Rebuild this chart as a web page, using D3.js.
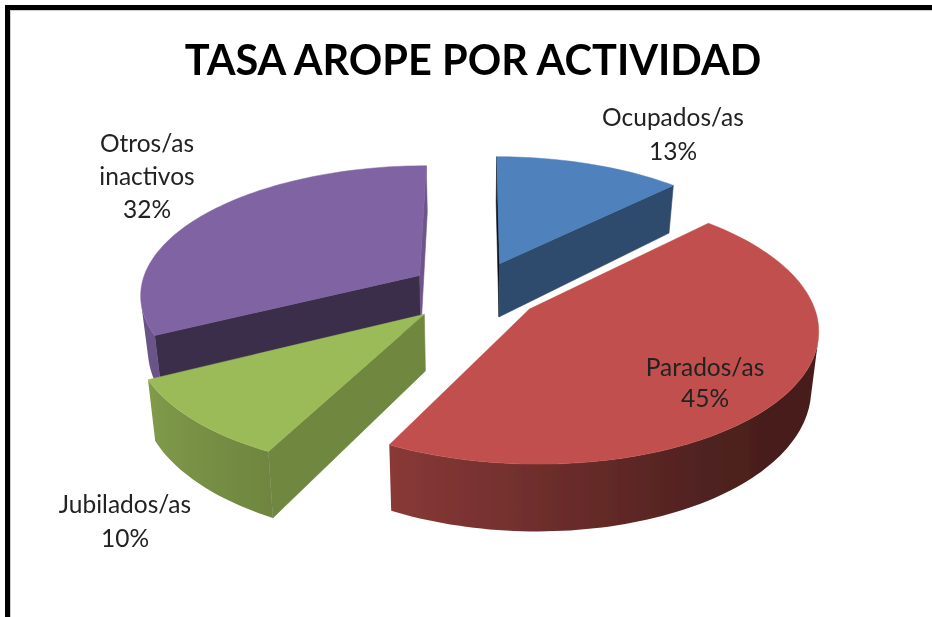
<!DOCTYPE html>
<html><head><meta charset="utf-8">
<script src="https://cdn.jsdelivr.net/npm/d3@7"></script>
<style>html,body{margin:0;padding:0;background:#fff}svg{display:block}</style>
</head><body><svg id="c" width="932" height="617"></svg>
<script>
const chartTitle = "TASA AROPE POR ACTIVIDAD";
const categories = ["Ocupados/as","Parados/as","Jubilados/as","Otros/as inactivos"];
const values = [12.5,45,10,32.5];
const labelLines = [["Ocupados/as","13%"],["Parados/as","45%"],["Jubilados/as","10%"],["Otros/as","inactivos","32%"]];
const colors = ["#4f81bd","#c0504d","#9bbb59","#8064a2"];

// layout and shading, kept apart from the data
const W=932,H=617, cx=475, cy=291, R=280, K=0.459, D=2060, DEPTH=55, PINCH=0.0004;
const explode=[66,66,70,66];
const labelPos=[[673,126],[705,376],[125,513],[147,152]];
const lineGap=[34,31,34,33];
const startShade=[0.12,0.3,0.72,0.46], endShade=[0.58,0.3,0.72,0.85];
const rimShade=d3.scaleLinear().domain([0,60,130,150,208,245,250,300,360]).range([.6,.4,.38,.42,.72,.84,.82,.85,.85]).clamp(true);

const svg=d3.select("#c");
const defs=svg.append("defs");
const blur=defs.append("filter").attr("id","soft").attr("x","-5%").attr("y","-5%").attr("width","110%").attr("height","110%");
blur.append("feGaussianBlur").attr("stdDeviation",0.5);
const root=svg.append("g").attr("filter","url(#soft)");
root.append("rect").attr("x",0).attr("y",0).attr("width",W).attr("height",H).attr("fill","#fff");
root.append("path").attr("d",`M7.5 ${H+5}V7.5H${W+5}`).attr("fill","none").attr("stroke","#000").attr("stroke-width",5);
root.append("path").attr("d",`M10.5 ${H+5}V10.5H${W+5}`).attr("fill","none").attr("stroke","#ccc").attr("stroke-width",1);

const arcs=d3.pie().sort(null).value(d=>d)(values);
function project(X,Y,z){const w=1+Y/D;return [cx+(X/w)*(1-z*PINCH), cy-K*Y/w+z/Math.pow(w,1.2)];}
function pt(a,r,d,z,i){const m=(d.startAngle+d.endAngle)/2;
  return project(explode[i]*Math.sin(m)+r*Math.sin(a),explode[i]*Math.cos(m)+r*Math.cos(a),z);}
const line=p=>"M"+p.map(q=>q[0].toFixed(1)+" "+q[1].toFixed(1)).join("L")+"Z";
const shade=(c,f)=>d3.interpolateRgb("#000",c)(f);

[3,0,2,1].forEach(i=>{
  const d=arcs[i], g=root.append("g"), c=colors[i];
  const n=Math.max(8,Math.round((d.endAngle-d.startAngle)*40));
  const angs=d3.range(n+1).map(j=>d.startAngle+(d.endAngle-d.startAngle)*j/n);
  const quad=(a,b,rA,rB)=>[pt(a,rA,d,0,i),pt(b,rB,d,0,i),pt(b,rB,d,DEPTH,i),pt(a,rA,d,DEPTH,i)];
  const addFace=(a,b,rA,rB,f)=>{
    const q=quad(a,b,rA,rB);
    if(d3.polygonArea(q)>0) g.append("path").attr("d",line(q)).attr("fill",shade(c,f)).attr("stroke",shade(c,f)).attr("stroke-width",.6);
  };
  // walls of a convex prism: keep only those turned towards the viewer
  addFace(d.startAngle,d.startAngle,0,R,startShade[i]);
  addFace(d.endAngle,d.endAngle,R,0,endShade[i]);
  const front=angs.filter((a,j)=>j<n && d3.polygonArea(quad(a,angs[j+1],R,R))>0);
  if(front.length){
    const last=front[front.length-1]+(d.endAngle-d.startAngle)/n;
    const as=front.concat([last]);
    const topPts=as.map(a=>pt(a,R,d,0,i)), botPts=as.map(a=>pt(a,R,d,DEPTH,i));
    const xs=topPts.map(p=>p[0]), x0=d3.min(xs), x1=d3.max(xs);
    const grad=defs.append("linearGradient").attr("id","rim"+i).attr("gradientUnits","userSpaceOnUse")
      .attr("x1",x0).attr("x2",x1).attr("y1",0).attr("y2",0);
    as.map((a,j)=>({o:(xs[j]-x0)/(x1-x0||1),a})).sort((p,q)=>p.o-q.o).forEach(s=>{
      grad.append("stop").attr("offset",s.o).attr("stop-color",shade(c,rimShade(s.a*180/Math.PI)));
    });
    g.append("path").attr("d",line(topPts.concat(botPts.reverse()))).attr("fill",`url(#rim${i})`);
  }
  const top=[pt(0,0,d,0,i)].concat(angs.map(a=>pt(a,R,d,0,i)));
  g.append("path").attr("d",line(top)).attr("fill",c).attr("stroke",c).attr("stroke-width",.5);
});

labelLines.forEach((ls,i)=>{
  ls.forEach((t,j)=>{
    root.append("text").attr("x",labelPos[i][0]).attr("y",labelPos[i][1]+j*lineGap[i])
      .attr("text-anchor","middle").attr("font-family","Lato").attr("font-size",24.5).attr("fill","#222").text(t);
  });
});
root.append("text").attr("x",473).attr("y",75).attr("text-anchor","middle").attr("font-family","Lato")
  .attr("font-weight",700).attr("font-size",41.5).attr("fill","#000").text(chartTitle);
</script></body></html>
